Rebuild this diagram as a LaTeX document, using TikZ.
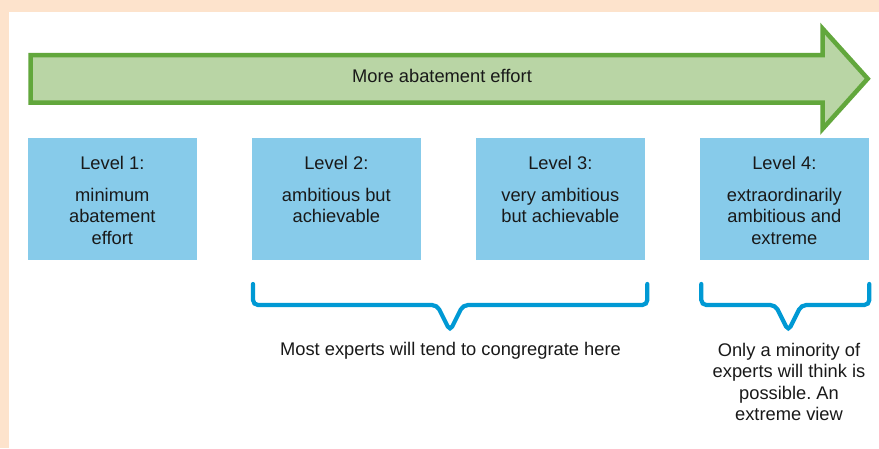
\documentclass[tikz,border=0pt]{standalone}
\usepackage{fontspec}
\setmainfont{Liberation Sans}
\frenchspacing
\definecolor{peach}{HTML}{FDE3CC}
\definecolor{arrowfill}{HTML}{B9D5A5}
\definecolor{arrowline}{HTML}{62A73C}
\definecolor{boxblue}{HTML}{87CBEA}
\definecolor{braceblue}{HTML}{0099D4}
\begin{document}
\begin{tikzpicture}[x=1pt,y=-1pt,
  txt/.style={font=\fontsize{18.3}{21.5}\selectfont, text=black!90, inner sep=0pt, anchor=base, align=center},
  levelbox/.style={fill=boxblue, draw=none, minimum width=168.7pt, minimum height=122pt, inner sep=0pt},
  bracestyle/.style={draw=braceblue, line width=4.2pt, line cap=round, rounded corners=5pt}
]
\useasboundingbox (0,0) rectangle (879,448);
\fill[peach] (0,0) rectangle (879,448);
\fill[white] (9,12) rectangle (879,448);
% big arrow
\draw[fill=arrowfill, draw=arrowline, line width=4.5pt, miter limit=10]
  (30.7,55) -- (822.5,55) -- (822.5,28.5) -- (867.7,78.7) -- (822.5,129) -- (822.5,102.5) -- (30.7,102.5) -- cycle;
\node[txt] (arrowtext) at (442,82.3) {More abatement effort};
% level boxes
\node[levelbox] (b1) at (112.35,199) {};
\node[levelbox] (b2) at (336.35,199) {};
\node[levelbox] (b3) at (560.35,199) {};
\node[levelbox] (b4) at (784.35,199) {};
\node[txt] (t1) at (112.35,169.3) {Level 1:};
\node[txt] (d1) at (112.35,244) {minimum\\abatement\\effort};
\node[txt] (t2) at (336.35,169.3) {Level 2:};
\node[txt] (d2) at (336.35,222.5) {ambitious but\\achievable};
\node[txt] (t3) at (560.35,169.3) {Level 3:};
\node[txt] (d3) at (560.35,222.5) {very ambitious\\but achievable};
\node[txt] (t4) at (784.35,169.3) {Level 4:};
\node[txt] (d4) at (784.35,244) {extraordinarily\\ambitious and\\extreme};
% braces
\coordinate (br1a) at (253,284);
\coordinate (br1b) at (647.3,284);
\coordinate (br1tip) at (450,331);
\draw[bracestyle] (br1a) -- (253,305) -- (437,305) -- (br1tip) -- (463,305) -- (647.3,305) -- (br1b);
\coordinate (br2a) at (701.3,284);
\coordinate (br2b) at (869.3,284);
\coordinate (br2tip) at (788.3,331);
\draw[bracestyle] (br2a) -- (701.3,305) -- (775.3,305) -- (br2tip) -- (801.3,305) -- (869.3,305) -- (br2b);
\node[txt] (most) at (450.5,355) {Most experts will tend to congregrate here};
\node[txt] (only) at (789,420.5) {Only a minority of\\experts will think is\\possible. An\\extreme view};
\end{tikzpicture}
\end{document}
